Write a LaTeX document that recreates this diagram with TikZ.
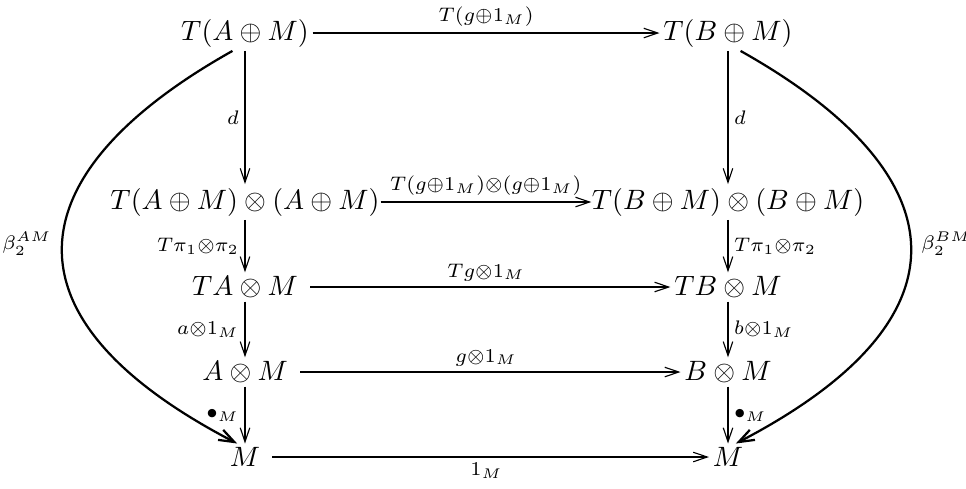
\documentclass[tikz,border=0pt]{standalone}
\usepackage{amsmath,amssymb}
\usepackage{tikz}
\usetikzlibrary{arrows.meta}

\begin{document}
\begin{tikzpicture}[x=35.7pt,y=35.7pt,
  obj/.style={inner sep=1.2pt},
  mor/.style={-{Straight Barb[length=5pt,width=3.4pt]}, line width=0.4pt},
  bendarr/.style={-{Straight Barb[length=5.5pt,width=4pt]}, line width=0.8pt},
  lab/.style={inner sep=2pt}]
\useasboundingbox (0,0) rectangle (9.66,-4.88);

% Left column
\node[obj] (TA)  at (2.45,-0.33) {$T(A\oplus M)$};
\node[obj] (TAA) at (2.45,-2.02) {$T(A\oplus M)\otimes(A\oplus M)$};
\node[obj] (TAM) at (2.45,-2.87) {$TA\otimes M$};
\node[obj] (AM)  at (2.45,-3.72) {$A\otimes M$};
\node[obj] (ML)  at (2.45,-4.57) {$M$};

% Right column
\node[obj] (TB)  at (7.28,-0.33) {$T(B\oplus M)$};
\node[obj] (TBB) at (7.28,-2.02) {$T(B\oplus M)\otimes(B\oplus M)$};
\node[obj] (TBM) at (7.28,-2.87) {$TB\otimes M$};
\node[obj] (BM)  at (7.28,-3.72) {$B\otimes M$};
\node[obj] (MR)  at (7.28,-4.57) {$M$};

% Horizontal arrows
\draw[mor] (TA) -- node[lab,above] {$\scriptstyle T(g\oplus 1_M)$} (TB);
\draw[mor, shorten <=-1pt, shorten >=-1.2pt] (TAA) -- node[lab,above] {$\scriptstyle T(g\oplus 1_M)\otimes(g\oplus 1_M)$} (TBB);
\draw[mor, shorten <=3pt] (TAM) -- node[lab,above] {$\scriptstyle Tg\otimes 1_M$} (TBM);
\draw[mor, shorten <=3pt] (AM) -- node[lab,above] {$\scriptstyle g\otimes 1_M$} (BM);
\draw[mor, shorten <=3pt] (ML) -- node[lab,below] {$\scriptstyle 1_M$} (MR);

% Vertical arrows
\draw[mor] (TA) -- node[lab,left] {$\scriptstyle d$} (TAA);
\draw[mor] (TAA) -- node[lab,left] {$\scriptstyle T\pi_1\otimes\pi_2$} (TAM);
\draw[mor] (TAM) -- node[lab,left] {$\scriptstyle a\otimes 1_M$} (AM);
\draw[mor] (AM) -- node[lab,left] {$\scriptstyle \bullet_M$} (ML);
\draw[mor] (TB) -- node[lab,right] {$\scriptstyle d$} (TBB);
\draw[mor] (TBB) -- node[lab,right] {$\scriptstyle T\pi_1\otimes\pi_2$} (TBM);
\draw[mor] (TBM) -- node[lab,right] {$\scriptstyle b\otimes 1_M$} (BM);
\draw[mor] (BM) -- node[lab,right] {$\scriptstyle \bullet_M$} (MR);

% Outer curves
\draw[bendarr] (TA.-125) .. controls (0.20,-1.70) and (-0.10,-3.15) .. node[lab,left,inner sep=3.5pt] {$\scriptstyle \beta_2^{AM}$} (ML.120);
\draw[bendarr] (TB.-55) .. controls (9.53,-1.70) and (9.83,-3.15) .. node[lab,right,inner sep=3.5pt] {$\scriptstyle \beta_2^{BM}$} (MR.60);
\end{tikzpicture}
\end{document}
